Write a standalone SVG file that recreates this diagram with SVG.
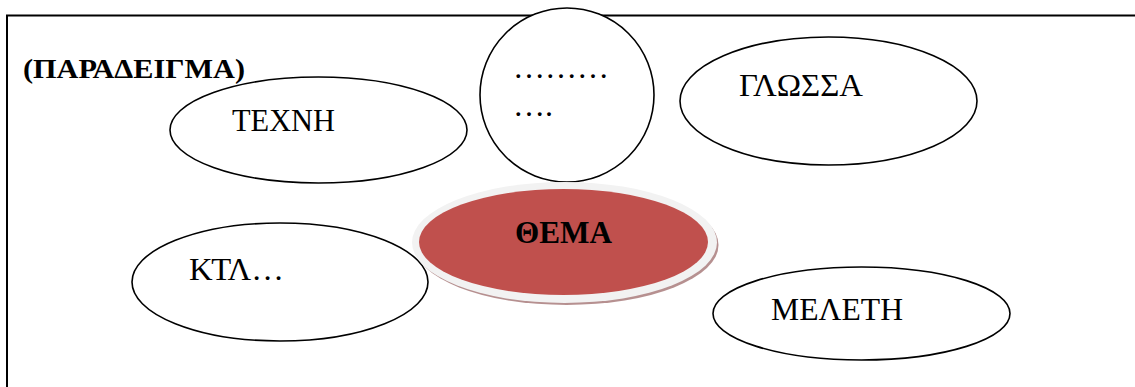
<svg xmlns="http://www.w3.org/2000/svg" width="1135" height="387" viewBox="0 0 1135 387">
  <style>
    .node { fill: #ffffff; stroke: #000000; stroke-width: 1.6; }
    .lbl { font-family: "Liberation Serif", "Times New Roman", serif; font-size: 32px; fill: #000000; }
    .bold { font-weight: bold; }
    .frame { stroke: #000000; stroke-width: 2; fill: none; }
  </style>
  <rect width="1135" height="387" fill="#ffffff"/>
  <g id="frame">
    <path class="frame" d="M7,387 V15.5 H1135"/>
  </g>
  <g id="title">
    <text class="lbl bold" x="23" y="78" style="font-size:28px" textLength="222" lengthAdjust="spacingAndGlyphs">(ΠΑΡΑΔΕΙΓΜΑ)</text>
  </g>
  <g id="connectors"></g>
  <g id="node-techni">
    <ellipse class="node" cx="318.5" cy="130" rx="148.5" ry="53"/>
    <text class="lbl" x="232" y="131" textLength="103" lengthAdjust="spacingAndGlyphs">ΤΕΧΝΗ</text>
  </g>
  <g id="node-dots">
    <circle class="node" cx="567" cy="95" r="87"/>
    <text class="lbl" x="513" y="78">………</text>
    <text class="lbl" x="513" y="116">….</text>
  </g>
  <g id="node-glossa">
    <ellipse class="node" cx="828.5" cy="101" rx="148.5" ry="64"/>
    <text class="lbl" x="739" y="96" textLength="124" lengthAdjust="spacingAndGlyphs">ΓΛΩΣΣΑ</text>
  </g>
  <g id="node-ktl">
    <ellipse class="node" cx="280" cy="282" rx="148" ry="59"/>
    <text class="lbl" x="189" y="280" textLength="95" lengthAdjust="spacingAndGlyphs">ΚΤΛ…</text>
  </g>
  <g id="node-meleti">
    <ellipse class="node" cx="861.5" cy="313.5" rx="148.5" ry="46.5"/>
    <text class="lbl" x="771" y="320" textLength="132" lengthAdjust="spacingAndGlyphs">ΜΕΛΕΤΗ</text>
  </g>
  <g id="node-thema">
    <ellipse cx="566.5" cy="245" rx="152" ry="60" fill="#a97c7c" opacity="0.85"/>
    <ellipse cx="564.5" cy="242.5" rx="152.5" ry="60.5" fill="#f2f2f2"/>
    <ellipse cx="563.5" cy="242" rx="144.5" ry="53" fill="#c0504d"/>
    <text class="lbl bold" x="515" y="243" textLength="97" lengthAdjust="spacingAndGlyphs">ΘΕΜΑ</text>
  </g>
</svg>
